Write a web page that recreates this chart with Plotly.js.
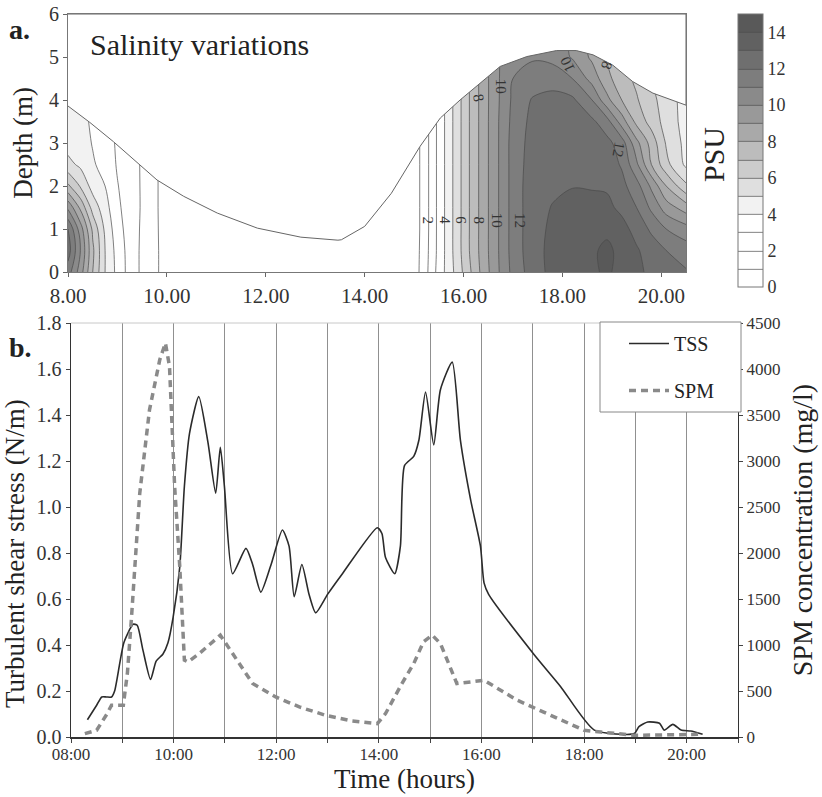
<!DOCTYPE html>
<html>
<head>
<meta charset="utf-8">
<script src="https://cdn.plot.ly/plotly-3.0.1.min.js"></script>
<style>html,body{margin:0;padding:0;background:#fff;}#chart{width:822px;height:797px;}</style>
</head>
<body>
<div id="chart"></div>
<script>
// ---------- Panel a: salinity (PSU) ----------
const salTime = [8, 8.25, 8.5, 8.75, 9, 9.25, 9.5, 10, 14.9, 15.2, 15.5, 15.8, 16.1, 16.4, 16.7, 17.0, 17.4, 17.8, 18.2, 18.6, 18.9, 19.2, 19.5, 19.8, 20.1, 20.5];
const salDepth = [0, 0.5, 1, 1.5, 2, 2.5, 3, 3.5, 4, 4.5, 5, 5.5];
// one column (depth profile) per time in salTime
const salinityProfiles = [
  [11.5, 12.5, 12.0, 9.8, 7.2, 5.3, 4.6, 4.4, 4.3, 4.3, 4.3, 4.3],
  [9.5, 10.0, 9.5, 7.8, 5.9, 4.8, 4.4, 4.2, 4.1, 4.1, 4.1, 4.1],
  [7.0, 7.2, 6.8, 5.6, 4.6, 4.1, 3.95, 3.9, 3.9, 3.9, 3.9, 3.9],
  [5.0, 5.0, 4.8, 4.4, 4.0, 3.7, 3.5, 3.4, 3.4, 3.4, 3.4, 3.4],
  [3.7, 3.6, 3.4, 3.2, 3.05, 2.9, 2.85, 2.8, 2.8, 2.8, 2.8, 2.8],
  [2.6, 2.6, 2.55, 2.5, 2.45, 2.4, 2.35, 2.3, 2.3, 2.3, 2.3, 2.3],
  [1.8, 1.8, 1.85, 1.9, 1.9, 1.9, 1.9, 1.9, 1.9, 1.9, 1.9, 1.9],
  [0.6, 0.6, 0.55, 0.5, 0.5, 0.5, 0.5, 0.5, 0.5, 0.5, 0.5, 0.5],
  [0, 0, 0, 0, 0, 0, 0, 0, 0, 0, 0, 0],
  [1.5, 1.45, 1.4, 1.4, 1.4, 1.4, 1.4, 1.4, 1.4, 1.4, 1.4, 1.4],
  [3.4, 3.3, 3.3, 3.3, 3.3, 3.3, 3.3, 3.3, 3.3, 3.3, 3.3, 3.3],
  [5.0, 5.1, 5.1, 5.1, 5.1, 5.1, 5.1, 5.1, 5.1, 5.1, 5.1, 5.1],
  [6.7, 6.9, 6.9, 6.9, 6.9, 6.9, 6.9, 6.9, 6.9, 6.9, 6.9, 6.9],
  [8.4, 8.5, 8.5, 8.5, 8.5, 8.5, 8.5, 8.5, 8.5, 8.5, 8.5, 8.5],
  [9.9, 9.95, 9.95, 9.95, 9.95, 9.95, 9.95, 9.95, 9.9, 9.9, 9.9, 9.9],
  [11.3, 11.4, 11.4, 11.4, 11.4, 11.4, 11.4, 11.3, 11.2, 11.0, 10.8, 10.8],
  [12.5, 12.6, 12.6, 12.6, 12.6, 12.5, 12.4, 12.3, 12.1, 11.4, 10.9, 10.9],
  [13.3, 13.3, 13.2, 13.05, 12.8, 12.7, 12.6, 12.5, 12.3, 11.6, 10.7, 10.7],
  [13.6, 13.6, 13.5, 13.4, 12.95, 12.8, 12.6, 12.5, 12.2, 11.0, 9.9, 9.8],
  [13.8, 13.8, 13.6, 13.4, 12.9, 12.7, 12.5, 12.2, 11.0, 9.6, 8.8, 8.7],
  [14.2, 14.3, 13.7, 13.2, 12.9, 12.5, 12.3, 11.4, 9.3, 8.3, 7.9, 7.8],
  [13.6, 13.6, 13.3, 12.8, 12.3, 11.9, 11.5, 9.5, 8.0, 7.4, 7.2, 7.1],
  [13.2, 13.1, 12.7, 12.0, 11.4, 10.2, 9.3, 7.7, 7.1, 6.8, 6.6, 6.5],
  [12.8, 12.6, 11.8, 10.8, 9.8, 8.0, 7.6, 6.6, 6.3, 6.0, 6.0, 6.0],
  [12.4, 12.0, 11.0, 9.5, 8.0, 6.3, 5.9, 5.6, 5.5, 5.3, 5.3, 5.3],
  [12.1, 11.5, 10.4, 8.5, 6.2, 4.8, 4.7, 4.6, 4.6, 4.6, 4.6, 4.6]
];
// water surface (upper limit of the section)
const surfaceTime = [8.0, 8.44, 8.92, 9.46, 9.80, 10.34, 11.02, 11.83, 12.71, 13.46, 13.53, 14.0, 14.54, 15.12, 15.53, 15.93, 16.34, 16.74, 17.28, 17.88, 18.28, 18.62, 19.02, 19.42, 19.83, 20.5];
const surfaceDepth = [3.86, 3.48, 3.03, 2.49, 2.14, 1.76, 1.37, 1.02, 0.81, 0.74, 0.75, 1.06, 1.83, 2.92, 3.58, 4.0, 4.39, 4.78, 5.01, 5.15, 5.15, 5.05, 4.81, 4.43, 4.16, 3.88];
const psuBandColors = ['#ffffff', '#ffffff', '#ffffff', '#ffffff', '#eeeeee', '#dcdcdc', '#cbcbcb', '#bcbcbc', '#aaaaaa', '#9b9b9b', '#8d8d8d', '#818181', '#747474', '#676767', '#595959'];
const topTickVals = [8, 10, 12, 14, 16, 18, 20];
const topTickText = ['8.00', '10.00', '12.00', '14.00', '16.00', '18.00', '20.00'];
const psuTickVals = [0, 2, 4, 6, 8, 10, 12, 14];
// contour labels: [time, depth, text, angle]
const contourLabels = [
  [15.28, 1.2, '2', 90], [15.61, 1.2, '4', 90], [15.95, 1.2, '6', 90], [16.31, 1.2, '8', 90],
  [16.67, 1.2, '10', 90], [17.13, 1.2, '12', 90], [16.31, 4.05, '8', 80], [16.75, 4.32, '10', 90],
  [18.1, 4.82, '10', -115], [18.9, 4.8, '8', 110], [19.14, 2.84, '12', 100]
];

// ---------- Panel b: shear stress & SPM ----------
const tssTime = [8.32, 8.50, 8.60, 8.69, 8.79, 8.85, 8.95, 9.03, 9.21, 9.29, 9.40, 9.55, 9.66, 9.79, 9.89, 9.99, 10.12, 10.21, 10.31, 10.49, 10.67, 10.82, 10.91, 10.99, 11.15, 11.41, 11.54, 11.70, 11.90, 12.12, 12.25, 12.35, 12.50, 12.64, 12.77, 13.00, 13.29, 13.97, 14.06, 14.13, 14.31, 14.42, 14.50, 14.68, 14.78, 14.91, 15.07, 15.20, 15.43, 15.59, 15.79, 15.98, 16.05, 16.14, 17.02, 17.54, 18.20, 18.98, 19.07, 19.24, 19.47, 19.56, 19.73, 19.89, 20.08, 20.31];
const tssValue = [0.075, 0.138, 0.174, 0.174, 0.174, 0.20, 0.32, 0.41, 0.49, 0.486, 0.38, 0.25, 0.33, 0.36, 0.41, 0.52, 0.74, 1.09, 1.32, 1.48, 1.28, 1.06, 1.26, 1.09, 0.71, 0.82, 0.75, 0.63, 0.75, 0.90, 0.83, 0.61, 0.75, 0.62, 0.54, 0.62, 0.71, 0.91, 0.885, 0.78, 0.71, 0.83, 1.18, 1.22, 1.29, 1.50, 1.27, 1.51, 1.63, 1.29, 1.03, 0.83, 0.67, 0.62, 0.36, 0.22, 0.03, 0.015, 0.045, 0.065, 0.06, 0.03, 0.055, 0.03, 0.026, 0.012];
const spmTime = [8.27, 8.50, 8.70, 8.79, 9.02, 9.10, 9.18, 9.34, 9.53, 9.73, 9.84, 9.92, 10.02, 10.12, 10.21, 10.28, 10.50, 10.91, 11.15, 11.54, 11.99, 12.45, 12.96, 13.48, 13.97, 14.13, 14.45, 14.68, 14.87, 15.04, 15.20, 15.52, 16.05, 16.70, 17.35, 18.00, 18.33, 18.98, 20.28];
const spmValue = [36, 73, 250, 345, 345, 700, 1306, 2650, 3556, 4100, 4282, 4028, 2722, 1851, 835, 816, 907, 1107, 907, 581, 435, 327, 236, 174, 145, 254, 581, 798, 1034, 1107, 1016, 581, 617, 399, 236, 73, 54, 18, 29];
const bottomTickVals = [8, 9, 10, 11, 12, 13, 14, 15, 16, 17, 18, 19, 20, 21];
const bottomTickText = ['08:00', '', '10:00', '', '12:00', '', '14:00', '', '16:00', '', '18:00', '', '20:00', ''];

// ---------- build ----------
const z = salDepth.map((d, i) => salTime.map((t, j) => salinityProfiles[j][i]));
const nb = psuBandColors.length;
const colorscale = [[0, psuBandColors[0]]];
psuBandColors.forEach((c, k) => colorscale.push([(k + 0.5) / nb, c]));
colorscale.push([1, psuBandColors[nb - 1]]);

const SERIF = "Liberation Serif";
const f = (size, color) => ({family: SERIF, size: size, color: color || '#333'});
const PAD = '\u00a0'.repeat(7) + '\u200b';

const traces = [
  {
    type: 'contour', x: salTime, y: salDepth, z: z, xaxis: 'x', yaxis: 'y',
    zmin: 0, zmax: 15, colorscale: colorscale,
    contours: {start: 1, end: 14, size: 1, coloring: 'fill', showlabels: false},
    line: {color: '#4a4a4a', width: 0.7, smoothing: 1},
    showlegend: false, hoverinfo: 'skip',
    colorbar: {x: 738 / 822, xanchor: 'left', y: 1 - 14 / 797, yanchor: 'top', len: 273 / 797, lenmode: 'fraction',
      thickness: 25, xpad: 0, ypad: 0, outlinecolor: '#777', outlinewidth: 1,
      tickvals: psuTickVals, ticks: '', tickfont: f(18)}
  },
  {
    type: 'scatter', mode: 'lines', xaxis: 'x', yaxis: 'y',
    x: surfaceTime.concat([20.5, 8]), y: surfaceDepth.concat([6, 6]),
    fill: 'toself', fillcolor: '#ffffff', line: {color: '#666', width: 1},
    showlegend: false, hoverinfo: 'skip'
  },
  {
    type: 'scatter', mode: 'lines', name: 'TSS', xaxis: 'x2', yaxis: 'y2',
    x: tssTime, y: tssValue, line: {color: '#2b2b2b', width: 1.6, shape: 'spline', smoothing: 0.6},
    legendgroup: 'a'
  },
  {
    type: 'scatter', mode: 'lines', name: 'SPM', xaxis: 'x2', yaxis: 'y3',
    x: spmTime, y: spmValue, line: {color: '#8a8a8a', width: 3.5, dash: '7px,5px'},
    legendgroup: 'b'
  }
];

const annotations = [
  {xref: 'paper', yref: 'paper', x: 7 / 822, y: 1 - 30 / 797, text: '<b>a.</b>', showarrow: false, xanchor: 'left', yanchor: 'middle', font: f(28, '#222')},
  {xref: 'paper', yref: 'paper', x: 88 / 822, y: 1 - 45 / 797, text: 'Salinity variations', showarrow: false, xanchor: 'left', yanchor: 'middle', font: f(30, '#222')},
  {xref: 'paper', yref: 'paper', x: 7 / 822, y: 1 - 347 / 797, text: '<b>b.</b>', showarrow: false, xanchor: 'left', yanchor: 'middle', font: f(28, '#222')},
  {xref: 'paper', yref: 'paper', x: 713 / 822, y: 1 - 155 / 797, text: 'PSU', textangle: -90, showarrow: false, xanchor: 'center', yanchor: 'middle', font: f(30, '#222')}
];
contourLabels.forEach(l => annotations.push({
  xref: 'x', yref: 'y', x: l[0], y: l[1], text: l[2], textangle: l[3], showarrow: false, font: f(15)
}));

const layout = {
  width: 822, height: 797,
  margin: {l: 0, r: 0, t: 0, b: 0},
  paper_bgcolor: '#ffffff', plot_bgcolor: '#ffffff',
  font: {family: SERIF, color: '#333'},
  xaxis: {domain: [68 / 822, 686 / 822], range: [8, 20.5], anchor: 'y', tickvals: topTickVals, ticktext: topTickText,
    ticks: 'outside', ticklen: 4, tickcolor: '#666', showline: true, linecolor: '#777', mirror: true,
    showgrid: false, zeroline: false, tickfont: f(21), ticklabelstandoff: 1},
  yaxis: {domain: [1 - 272 / 797, 1 - 14 / 797], range: [0, 6], dtick: 1, anchor: 'x',
    ticks: 'outside', ticklen: 4, tickcolor: '#666', showline: true, linecolor: '#777', mirror: true,
    showgrid: false, zeroline: false, tickfont: f(20),
    title: {text: 'Depth (m)', font: f(27, '#222'), standoff: 8}},
  xaxis2: {domain: [71 / 822, 738 / 822], range: [8, 21], anchor: 'y2', tickvals: bottomTickVals, ticktext: bottomTickText,
    ticks: 'outside', ticklen: 4, tickcolor: '#444', showline: true, linecolor: '#333', linewidth: 1.5,
    showgrid: true, gridcolor: '#909090', gridwidth: 1, zeroline: false, tickfont: f(17), ticklabelstandoff: -3,
    title: {text: 'Time (hours)', font: f(27, '#222'), standoff: 2}},
  yaxis2: {domain: [1 - 737 / 797, 1 - 323 / 797], range: [0, 1.8], dtick: 0.2, tickformat: '.1f', anchor: 'x2',
    ticks: 'outside', ticklen: 4, tickcolor: '#444', showline: true, linecolor: '#333', linewidth: 1.5,
    showgrid: false, zeroline: false, tickfont: f(20),
    title: {text: 'Turbulent shear stress (N/m)' + PAD, font: f(27, '#222'), standoff: 8}},
  yaxis3: {overlaying: 'y2', side: 'right', anchor: 'x2', range: [0, 4500], dtick: 500,
    ticks: 'outside', ticklen: 4, tickcolor: '#444', showline: true, linecolor: '#333', linewidth: 1.2,
    showgrid: false, zeroline: false, tickfont: f(17),
    title: {text: 'SPM concentration (mg/l)', font: f(28, '#222'), standoff: 12}},
  shapes: [
    {type: 'line', xref: 'x2 domain', yref: 'y2 domain', x0: 0, x1: 1, y0: 1, y1: 1, line: {color: '#c8c8c8', width: 1}},
    {type: 'rect', xref: 'paper', yref: 'paper', x0: 600 / 822, x1: 741 / 822, y0: 1 - 412 / 797, y1: 1 - 322 / 797,
      fillcolor: '#ffffff', line: {color: '#888', width: 1}, layer: 'above'}
  ],
  showlegend: true,
  legend: {x: 624 / 822, y: 1 - 324 / 797, xanchor: 'left', yanchor: 'top', bgcolor: 'rgba(0,0,0,0)',
    borderwidth: 0, font: f(20, '#222'),
    traceorder: 'grouped', tracegroupgap: 18, itemwidth: 40},
  annotations: annotations
};

Plotly.newPlot('chart', traces, layout, {displayModeBar: false, staticPlot: true});
</script>
</body>
</html>
